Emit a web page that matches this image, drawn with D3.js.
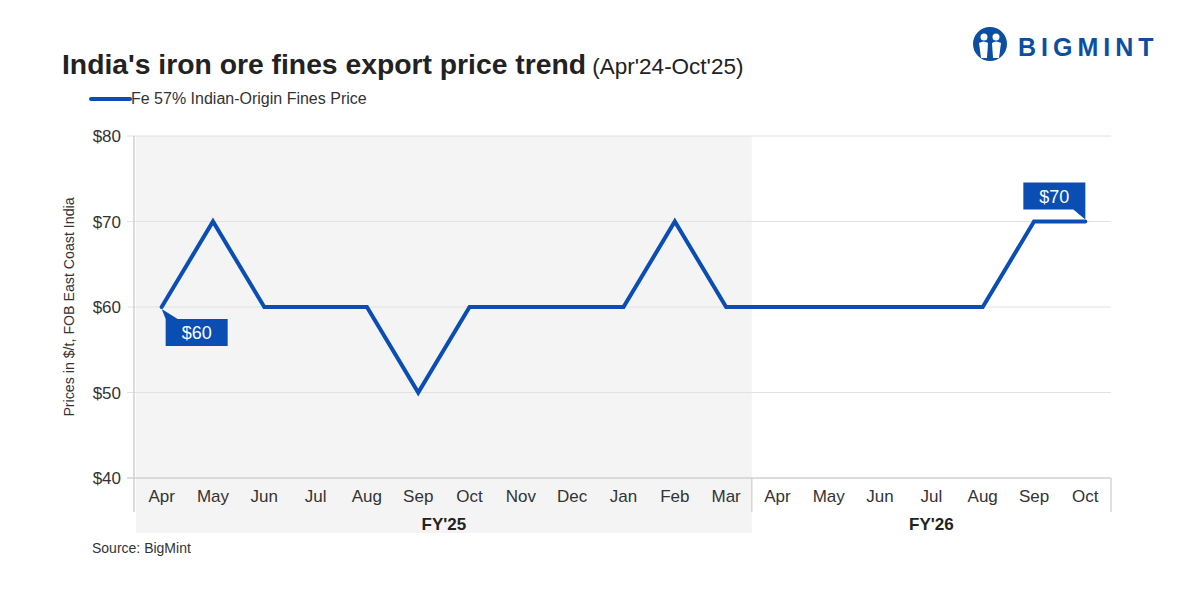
<!DOCTYPE html>
<html>
<head>
<meta charset="utf-8">
<script src="https://cdn.jsdelivr.net/npm/d3@7"></script>
<style>
  body { margin: 0; background: #fff; }
  text { font-family: "Liberation Sans", Arial, sans-serif; }
</style>
</head>
<body>
<div id="viz"></div>
<script>
// chart data
const months = ['Apr','May','Jun','Jul','Aug','Sep','Oct','Nov','Dec','Jan','Feb','Mar',
                'Apr','May','Jun','Jul','Aug','Sep','Oct']
const prices = [60,70,60,60,60,50,60,60,60,60,70,60,60,60,60,60,60,70,70]
const fiscalYears = ['FY\'25', 'FY\'26']
const fyCounts = [12, 7]
const yTicks = [40, 50, 60, 70, 80]

let width = 1200,
    height = 600;

const blue = '#0a4db3'

let svg = d3.select('#viz')
            .append('svg')
            .attr('width', width)
            .attr('height', height)
            .style('background', '#fff')

const keys = months.map((m, i) => i)

// scales
let xScale = d3.scaleBand()
                .domain(keys)
                .range([136, 1111])

let yScale = d3.scaleLinear()
                .domain([40, 80])
                .range([478, 136])

// shaded FY'25 block
let fyStart = 0
fiscalYears.forEach((fy, j) => {
  let x0 = xScale(fyStart)
  let x1 = xScale(fyStart + fyCounts[j] - 1) + xScale.bandwidth()
  if (j === 0) {
    svg.append('rect')
       .attr('x', x0).attr('y', yScale(80))
       .attr('width', x1 - x0).attr('height', 533 - yScale(80))
       .style('fill', '#f4f4f4')
  }
  svg.append('text')
     .attr('x', (x0 + x1) / 2).attr('y', 530)
     .attr('text-anchor', 'middle')
     .style('font-size', '17px').style('font-weight', 'bold')
     .style('fill', '#222')
     .text(fy)
  // separator lines at fiscal-year edges
  svg.append('line')
     .attr('x1', x1).attr('x2', x1)
     .attr('y1', yScale(40)).attr('y2', 512)
     .style('stroke', '#d6d6d6').style('stroke-width', 1.5)
  fyStart += fyCounts[j]
})

// gridlines
svg.selectAll('.grid')
   .data(yTicks)
   .enter()
     .append('line')
     .attr('x1', 127).attr('x2', 1111)
     .attr('y1', d => yScale(d)).attr('y2', d => yScale(d))
     .style('stroke', d => d === 40 ? '#d0d0d0' : '#e2e2e2')
     .style('stroke-width', d => d === 40 ? 1.5 : 1)

// y axis line
svg.append('line')
   .attr('x1', 134).attr('x2', 134)
   .attr('y1', yScale(80)).attr('y2', 512)
   .style('stroke', '#d0d0d0').style('stroke-width', 1.5)

// y tick labels
svg.selectAll('.ylab')
   .data(yTicks)
   .enter()
     .append('text')
     .attr('x', 121).attr('y', d => yScale(d) + 6)
     .attr('text-anchor', 'end')
     .style('font-size', '17px').style('fill', '#333')
     .text(d => '$' + d)

// y title
svg.append('text')
   .attr('transform', 'translate(74,' + 307 + ') rotate(-90)')
   .attr('text-anchor', 'middle')
   .style('font-size', '14.2px').style('fill', '#333')
   .text('Prices in $/t, FOB East Coast India')

// x labels
svg.selectAll('.xlab')
   .data(keys)
   .enter()
     .append('text')
     .attr('x', d => xScale(d) + xScale.bandwidth() / 2)
     .attr('y', 502)
     .attr('text-anchor', 'middle')
     .style('font-size', '17px').style('fill', '#333')
     .text(d => months[d])

// price line
let line = d3.line()
             .x((d, i) => xScale(i) + xScale.bandwidth() / 2)
             .y(d => yScale(d))

svg.append('path')
   .datum(prices)
   .attr('d', line)
   .style('fill', 'none')
   .style('stroke', blue)
   .style('stroke-width', 4)
   .style('stroke-linecap', 'round')
   .style('stroke-linejoin', 'miter')

// callouts
function callout(i, above) {
  let px = xScale(i) + xScale.bandwidth() / 2
  let py = yScale(prices[i])
  let w = 62, h = 27
  let path
  if (!above) {
    let bx = px + 4, by = py + 12
    path = `M${px},${py + 2} L${bx + 12},${by} L${bx + w},${by} L${bx + w},${by + h} L${bx},${by + h} L${bx},${by} Z`
    svg.append('path').attr('d', path).style('fill', blue)
    svg.append('text').attr('x', bx + w / 2).attr('y', by + 20)
       .attr('text-anchor', 'middle').style('font-size', '18px').style('fill', '#fff')
       .text('$' + prices[i])
  } else {
    let bx = px - w, by = py - 12 - h
    path = `M${bx},${by} L${bx + w},${by} L${bx + w},${by + h} L${px},${py - 2} L${bx + w - 12},${by + h} L${bx},${by + h} Z`
    svg.append('path').attr('d', path).style('fill', blue)
    svg.append('text').attr('x', bx + w / 2).attr('y', by + 20)
       .attr('text-anchor', 'middle').style('font-size', '18px').style('fill', '#fff')
       .text('$' + prices[i])
  }
}
callout(0, false)
callout(prices.length - 1, true)

// title
let title = svg.append('text')
               .attr('x', 62).attr('y', 74)
               .style('fill', '#222')
title.append('tspan')
     .style('font-size', '28.3px').style('font-weight', 'bold')
     .text('India\'s iron ore fines export price trend')
title.append('tspan')
     .style('font-size', '22.5px')
     .text(' (Apr\'24-Oct\'25)')

// legend
svg.append('line')
   .attr('x1', 91).attr('x2', 130).attr('y1', 99).attr('y2', 99)
   .style('stroke', blue).style('stroke-width', 4).style('stroke-linecap', 'round')
svg.append('text')
   .attr('x', 131).attr('y', 104)
   .style('font-size', '16px').style('fill', '#333')
   .text('Fe 57% Indian-Origin Fines Price')

// source
svg.append('text')
   .attr('x', 92).attr('y', 553)
   .style('font-size', '14px').style('fill', '#333')
   .text('Source: BigMint')

// logo
const logoBlue = '#0b4ea2'
let logo = svg.append('g').attr('transform', 'translate(990,44)')
logo.append('circle').attr('r', 17).style('fill', logoBlue)
logo.append('circle').attr('cx', -6).attr('cy', -7).attr('r', 3.5).style('fill', '#fff')
logo.append('circle').attr('cx', 6).attr('cy', -7).attr('r', 3.5).style('fill', '#fff')
logo.append('path').attr('d', 'M-11,-1 Q-6,-4 -2,-1 L-3,14 L-9,14 Z').style('fill', '#fff')
logo.append('path').attr('d', 'M11,-1 Q6,-4 2,-1 L3,14 L9,14 Z').style('fill', '#fff')
svg.append('text')
   .attr('x', 1018).attr('y', 56)
   .style('font-size', '25px').style('font-weight', 'bold')
   .style('letter-spacing', '5px')
   .style('fill', logoBlue)
   .text('BIGMINT')
</script>
</body>
</html>
